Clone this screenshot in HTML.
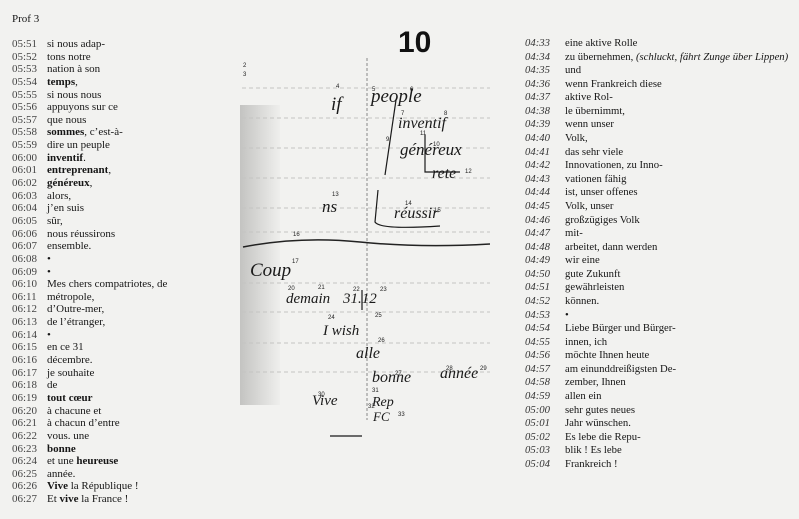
<!DOCTYPE html>
<html><head><meta charset="utf-8"><style>
body{margin:0;width:799px;height:519px;background:#f2f2f0;position:relative;overflow:hidden;font-family:"Liberation Serif",serif;color:#161616}
.col{position:absolute;font-size:11px;white-space:nowrap}
.col div{position:relative}
.t{position:absolute;color:#444}
#L{left:12px;top:38px;line-height:12.64px}
#L .x{margin-left:35px}
#R{left:525px;top:37px;line-height:13.58px;font-size:10.7px}
#R .t{font-style:italic;color:#333}
#R .x{margin-left:40px}
b{font-weight:bold}
</style></head><body>
<div style="position:absolute;left:12px;top:13px;font-size:11px">Prof 3</div>
<div id="L" class="col">
<div><span class="t">05:51</span><span class="x">si nous adap-</span></div>
<div><span class="t">05:52</span><span class="x">tons notre</span></div>
<div><span class="t">05:53</span><span class="x">nation à son</span></div>
<div><span class="t">05:54</span><span class="x"><b>temps</b>,</span></div>
<div><span class="t">05:55</span><span class="x">si nous nous</span></div>
<div><span class="t">05:56</span><span class="x">appuyons sur ce</span></div>
<div><span class="t">05:57</span><span class="x">que nous</span></div>
<div><span class="t">05:58</span><span class="x"><b>sommes</b>, c’est-à-</span></div>
<div><span class="t">05:59</span><span class="x">dire un peuple</span></div>
<div><span class="t">06:00</span><span class="x"><b>inventif</b>.</span></div>
<div><span class="t">06:01</span><span class="x"><b>entreprenant</b>,</span></div>
<div><span class="t">06:02</span><span class="x"><b>généreux</b>,</span></div>
<div><span class="t">06:03</span><span class="x">alors,</span></div>
<div><span class="t">06:04</span><span class="x">j’en suis</span></div>
<div><span class="t">06:05</span><span class="x">sûr,</span></div>
<div><span class="t">06:06</span><span class="x">nous réussirons</span></div>
<div><span class="t">06:07</span><span class="x">ensemble.</span></div>
<div><span class="t">06:08</span><span class="x">•</span></div>
<div><span class="t">06:09</span><span class="x">•</span></div>
<div><span class="t">06:10</span><span class="x">Mes chers compatriotes, de</span></div>
<div><span class="t">06:11</span><span class="x">métropole,</span></div>
<div><span class="t">06:12</span><span class="x">d’Outre-mer,</span></div>
<div><span class="t">06:13</span><span class="x">de l’étranger,</span></div>
<div><span class="t">06:14</span><span class="x">•</span></div>
<div><span class="t">06:15</span><span class="x">en ce 31</span></div>
<div><span class="t">06:16</span><span class="x">décembre.</span></div>
<div><span class="t">06:17</span><span class="x">je souhaite</span></div>
<div><span class="t">06:18</span><span class="x">de</span></div>
<div><span class="t">06:19</span><span class="x"><b>tout cœur</b></span></div>
<div><span class="t">06:20</span><span class="x">à chacune et</span></div>
<div><span class="t">06:21</span><span class="x">à chacun d’entre</span></div>
<div><span class="t">06:22</span><span class="x">vous. une</span></div>
<div><span class="t">06:23</span><span class="x"><b>bonne</b></span></div>
<div><span class="t">06:24</span><span class="x">et une <b>heureuse</b></span></div>
<div><span class="t">06:25</span><span class="x">année.</span></div>
<div><span class="t">06:26</span><span class="x"><b>Vive</b> la République !</span></div>
<div><span class="t">06:27</span><span class="x">Et <b>vive</b> la France !</span></div>
</div>
<div id="R" class="col">
<div><span class="t">04:33</span><span class="x">eine aktive Rolle</span></div>
<div><span class="t">04:34</span><span class="x">zu übernehmen, <i>(schluckt, fährt Zunge über Lippen)</i></span></div>
<div><span class="t">04:35</span><span class="x">und</span></div>
<div><span class="t">04:36</span><span class="x">wenn Frankreich diese</span></div>
<div><span class="t">04:37</span><span class="x">aktive Rol-</span></div>
<div><span class="t">04:38</span><span class="x">le übernimmt,</span></div>
<div><span class="t">04:39</span><span class="x">wenn unser</span></div>
<div><span class="t">04:40</span><span class="x">Volk,</span></div>
<div><span class="t">04:41</span><span class="x">das sehr viele</span></div>
<div><span class="t">04:42</span><span class="x">Innovationen, zu Inno-</span></div>
<div><span class="t">04:43</span><span class="x">vationen fähig</span></div>
<div><span class="t">04:44</span><span class="x">ist, unser offenes</span></div>
<div><span class="t">04:45</span><span class="x">Volk, unser</span></div>
<div><span class="t">04:46</span><span class="x">großzügiges Volk</span></div>
<div><span class="t">04:47</span><span class="x">mit-</span></div>
<div><span class="t">04:48</span><span class="x">arbeitet, dann werden</span></div>
<div><span class="t">04:49</span><span class="x">wir eine</span></div>
<div><span class="t">04:50</span><span class="x">gute Zukunft</span></div>
<div><span class="t">04:51</span><span class="x">gewährleisten</span></div>
<div><span class="t">04:52</span><span class="x">können.</span></div>
<div><span class="t">04:53</span><span class="x">•</span></div>
<div><span class="t">04:54</span><span class="x">Liebe Bürger und Bürger-</span></div>
<div><span class="t">04:55</span><span class="x">innen, ich</span></div>
<div><span class="t">04:56</span><span class="x">möchte Ihnen heute</span></div>
<div><span class="t">04:57</span><span class="x">am einunddreißigsten De-</span></div>
<div><span class="t">04:58</span><span class="x">zember, Ihnen</span></div>
<div><span class="t">04:59</span><span class="x">allen ein</span></div>
<div><span class="t">05:00</span><span class="x">sehr gutes neues</span></div>
<div><span class="t">05:01</span><span class="x">Jahr wünschen.</span></div>
<div><span class="t">05:02</span><span class="x">Es lebe die Repu-</span></div>
<div><span class="t">05:03</span><span class="x">blik ! Es lebe</span></div>
<div><span class="t">05:04</span><span class="x">Frankreich !</span></div>
</div>
<svg width="799" height="519" style="position:absolute;left:0;top:0" font-family="Liberation Serif, serif">
<defs><linearGradient id="g" x1="0" x2="1"><stop offset="0" stop-color="#b8b8b6"/><stop offset="1" stop-color="#eeeeec"/></linearGradient></defs>
<rect x="240" y="105" width="40" height="300" fill="url(#g)" opacity="0.8"/>
<g stroke="#c4c4c2" stroke-width="1" stroke-dasharray="4 3">
<line x1="242" y1="88" x2="490" y2="88"/><line x1="242" y1="118" x2="490" y2="118"/>
<line x1="242" y1="148" x2="490" y2="148"/><line x1="242" y1="178" x2="490" y2="178"/>
<line x1="242" y1="208" x2="490" y2="208"/><line x1="242" y1="232" x2="490" y2="232"/>
<line x1="242" y1="283" x2="490" y2="283"/><line x1="242" y1="312" x2="490" y2="312"/>
<line x1="242" y1="343" x2="490" y2="343"/><line x1="242" y1="372" x2="490" y2="372"/>
</g>
<line x1="367" y1="58" x2="367" y2="420" stroke="#888" stroke-width="1" stroke-dasharray="3 2"/>
<path d="M243 247 Q300 236 360 242 T490 244" stroke="#222" stroke-width="1.5" fill="none"/>
<text x="398" y="52" font-size="30" font-weight="bold" font-family="Liberation Sans, sans-serif" fill="#111">10</text>
<g font-size="6" font-family="Liberation Sans, sans-serif" fill="#222">
<text x="243" y="67">2</text><text x="243" y="76">3</text><text x="336" y="88">4</text><text x="372" y="91">5</text><text x="410" y="91">6</text><text x="401" y="115">7</text><text x="444" y="115">8</text><text x="386" y="141">9</text><text x="433" y="146">10</text><text x="420" y="135">11</text><text x="465" y="173">12</text><text x="332" y="196">13</text><text x="405" y="205">14</text><text x="434" y="212">15</text><text x="293" y="236">16</text><text x="292" y="263">17</text><text x="288" y="290">20</text><text x="318" y="289">21</text><text x="353" y="291">22</text><text x="380" y="291">23</text><text x="328" y="319">24</text><text x="375" y="317">25</text><text x="378" y="342">26</text><text x="395" y="375">27</text><text x="446" y="370">28</text><text x="480" y="370">29</text><text x="318" y="396">30</text><text x="372" y="392">31</text><text x="368" y="408">32</text><text x="398" y="416">33</text>
</g>
<g font-style="italic" fill="#1a1a1a" font-size="19">
<text x="331" y="110">if</text><text x="371" y="102">people</text>
<text x="398" y="128" font-size="16">inventif</text>
<text x="400" y="155" font-size="17">généreux</text>
<text x="432" y="178" font-size="16">rete</text>
<text x="322" y="212" font-size="17">ns</text>
<text x="394" y="218" font-size="16">réussir</text>
<text x="250" y="276">Coup</text>
<text x="286" y="303" font-size="15">demain</text>
<text x="343" y="303" font-size="15">31.12</text>
<text x="323" y="335" font-size="15">I wish</text>
<text x="356" y="358" font-size="16">alle</text>
<text x="372" y="382" font-size="16">bonne</text>
<text x="440" y="378" font-size="16">année</text>
<text x="312" y="405" font-size="15">Vive</text>
<text x="372" y="406" font-size="14">Rep</text>
<text x="373" y="421" font-size="13">FC</text>
</g>
<g stroke="#1a1a1a" stroke-width="1.2" fill="none">
<path d="M396 100 L385 175"/><path d="M425 135 L425 172 L460 172"/>
<path d="M378 190 L375 222 Q380 230 440 226"/><path d="M330 436 L362 436"/>
<path d="M362 290 L362 310"/>
</g>
</svg>
</body></html>
